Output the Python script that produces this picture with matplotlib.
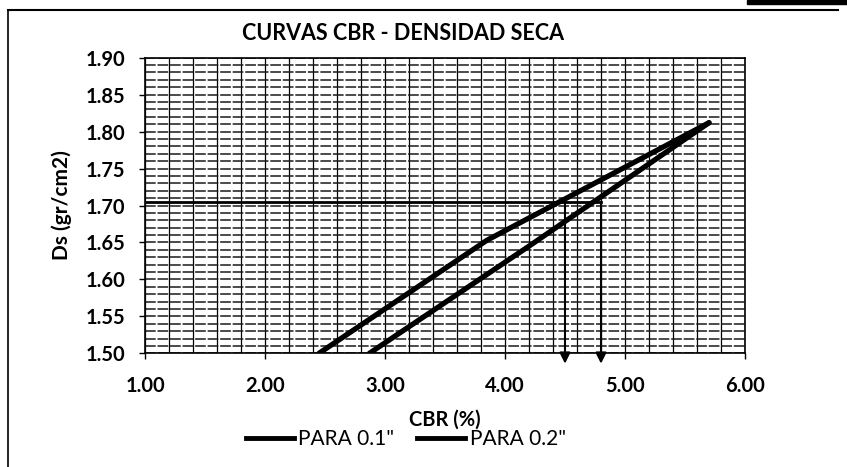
import numpy as np
import matplotlib.pyplot as plt
from matplotlib.lines import Line2D

plt.rcParams['font.family'] = ['Lato', 'DejaVu Sans']

# CBR vs dry density curves
cbr_01 = [2.45, 3.85, 5.70]
ds_01 = [1.50, 1.653, 1.812]
cbr_02 = [2.87, 4.20, 5.70]
ds_02 = [1.50, 1.645, 1.812]

# design dry density and the CBR values
ds_design = 1.705
cbr_read = [4.5, 4.8]

x_ticks = [1.0, 2.0, 3.0, 4.0, 5.0, 6.0]
y_ticks = [1.50, 1.55, 1.60, 1.65, 1.70, 1.75, 1.80, 1.85, 1.90]

W, H = 847, 467
fig = plt.figure(figsize=(W / 100, H / 100), dpi=100)
ax = fig.add_axes([145 / W, 1 - 353.3 / H, 600 / W, 295.6 / H])

# graph-paper grid
for x in np.arange(1.0, 6.01, 0.2):
    ax.axvline(x, color='black', lw=0.9, zorder=1)
for y in np.arange(1.50, 1.901, 0.01):
    ax.axhline(y, color='#1a1a1a', lw=1.1, ls=(0, (7, 1.2)), zorder=1)

ax.plot(cbr_01, ds_01, color='black', lw=3.8, solid_capstyle='round', zorder=3)
ax.plot(cbr_02, ds_02, color='black', lw=3.8, solid_capstyle='round', zorder=3)

# design density line and arrows down to the CBR axis
ax.plot([1.0, max(cbr_read)], [ds_design, ds_design], color='black', lw=2.0, zorder=2)
for c in cbr_read:
    ax.annotate('', xy=(c, 1.486), xytext=(c, ds_design),
                arrowprops=dict(arrowstyle='-|>', color='black', lw=1.5,
                                mutation_scale=16, shrinkA=0, shrinkB=0),
                annotation_clip=False, zorder=4)

ax.set_xlim(1.0, 6.0)
ax.set_ylim(1.50, 1.90)
ax.set_xticks(x_ticks)
ax.set_yticks(y_ticks)
ax.set_xticklabels([f'{v:.2f}' for v in x_ticks])
ax.set_yticklabels([f'{v:.2f}' for v in y_ticks])
ax.tick_params(direction='out', length=4, width=1, labelsize=14.5)
ax.tick_params(axis='x', pad=12)
ax.tick_params(axis='y', pad=10)
for lab in ax.get_xticklabels() + ax.get_yticklabels():
    lab.set_fontweight('bold')
for s in ax.spines.values():
    s.set_linewidth(1.2)

fig.text(403 / W, 1 - 33 / H, 'CURVAS CBR - DENSIDAD SECA', ha='center', va='center',
         fontsize=15.5, fontweight='bold')
fig.text(445 / W, 1 - 420 / H, 'CBR (%)', ha='center', va='center',
         fontsize=14.5, fontweight='bold')
fig.text(62 / W, 1 - 205 / H, 'Ds (gr/cm2)', ha='center', va='center',
         rotation=90, fontsize=15, fontweight='bold')

handles = [Line2D([], [], color='black', lw=3.5), Line2D([], [], color='black', lw=3.5)]
fig.legend(handles, ['PARA 0.1"', 'PARA 0.2"'], loc='center',
           bbox_to_anchor=(406 / W, 1 - 439 / H), ncol=2, frameon=False,
           fontsize=15, handlelength=2.3, handletextpad=0.2, columnspacing=1.1)

# page frame
fig.add_artist(Line2D([8 / W, 838 / W], [1 - 10 / H, 1 - 10 / H], color='black', lw=1.5))
fig.add_artist(Line2D([8 / W, 8 / W], [1 - 10 / H, 0], color='black', lw=1.2))
fig.add_artist(plt.Rectangle((747 / W, 1 - 3.5 / H), 100 / W, 3.5 / H, color='black'))

fig.savefig('out.png', dpi=100)
